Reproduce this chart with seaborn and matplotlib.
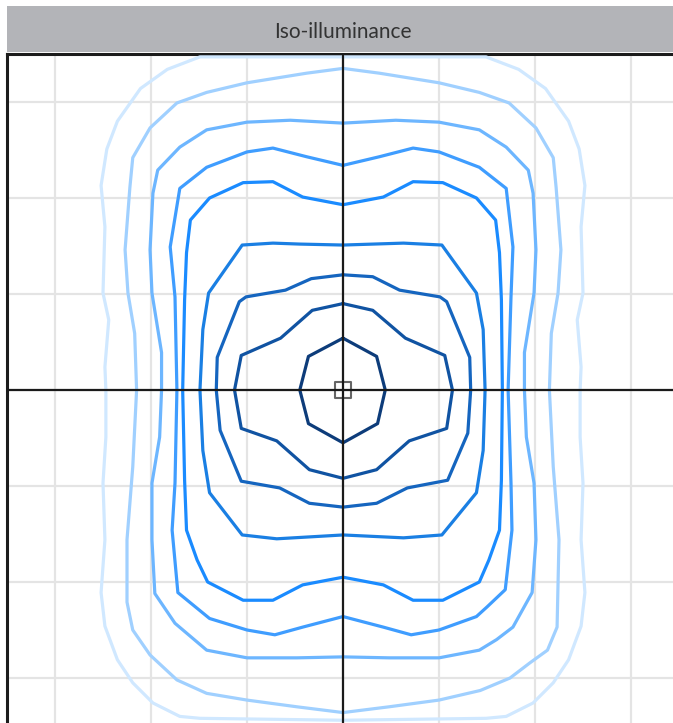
import matplotlib
matplotlib.use("Agg")
import numpy as np
import pandas as pd
import seaborn as sns
import matplotlib.pyplot as plt
from matplotlib.patches import Rectangle

# ---------------- data (metres, luminaire at origin) ----------------
title = "Iso-illuminance"
levels = ["L1", "L2", "L3", "L4", "L5", "L6", "L7", "L8", "L9"]
colors = ["#0d3c7a", "#1053a2", "#1565bf", "#1a7fe3", "#1a8bff",
          "#3f9dff", "#6db6ff", "#a0d0ff", "#d0e8ff"]

c1_x = [0, 0.35, 0.44, 0.36, 0, -0.36, -0.45, -0.36, 0]
c1_y = [0.54, 0.35, 0, -0.35, -0.55, -0.35, 0, 0.35, 0.54]

c2_x = [0, 0.31, 0.65, 1.06, 1.14, 1.08, 0.69, 0.35, 0,
        -0.35, -0.69, -1.06, -1.13, -1.06, -0.65, -0.32, 0]
c2_y = [0.90, 0.83, 0.54, 0.36, 0, -0.40, -0.53, -0.83, -0.92,
        -0.83, -0.53, -0.40, 0, 0.36, 0.54, 0.83, 0.90]

c3_x = [0, 0.31, 0.59, 1.01, 1.08, 1.32, 1.33, 1.30, 1.09, 0.67, 0.35, 0,
        -0.35, -0.66, -1.06, -1.28, -1.32, -1.31, -1.08, -1.01, -0.60, -0.33, 0]
c3_y = [1.20, 1.18, 1.04, 0.97, 0.92, 0.34, 0, -0.45, -0.94, -1.02, -1.18, -1.22,
        -1.18, -1.02, -0.95, -0.42, 0, 0.34, 0.92, 0.97, 1.04, 1.16, 1.20]

c4_x = [0, 0.63, 1.03, 1.39, 1.46, 1.48, 1.46, 1.39, 1.03, 0.63, 0,
        -0.69, -1.05, -1.39, -1.46, -1.49, -1.46, -1.40, -1.05, -0.73, -0.45, 0]
c4_y = [1.51, 1.53, 1.51, 1.01, 0.63, 0, -0.63, -1.07, -1.51, -1.54, -1.51,
        -1.55, -1.51, -1.07, -0.63, 0, 0.63, 1.01, 1.51, 1.53, 1.52, 1.51]

c5_x = [0, 0.42, 0.73, 1.04, 1.39, 1.59, 1.63, 1.65, 1.66, 1.65, 1.63, 1.52, 1.42,
        1.04, 0.73, 0.42, 0,
        -0.42, -0.73, -1.04, -1.41, -1.52, -1.63, -1.65, -1.67, -1.65, -1.63,
        -1.59, -1.39, -1.04, -0.73, -0.42, 0]
c5_y = [1.93, 2.01, 2.17, 2.16, 2.00, 1.77, 1.43, 0.94, 0, -0.94, -1.46, -1.77, -2.00,
        -2.19, -2.19, -2.03, -1.95,
        -2.03, -2.19, -2.19, -2.00, -1.77, -1.46, -0.94, 0, 0.94, 1.43,
        1.77, 2.00, 2.16, 2.17, 2.01, 1.93]

c6_x = [0, 0.38, 0.73, 1.00, 1.42, 1.70, 1.77, 1.75, 1.72, 1.75, 1.76, 1.69, 1.50,
        1.39, 1.00, 0.71, 0.42, 0,
        -0.42, -0.71, -1.00, -1.39, -1.72, -1.78, -1.75, -1.73, -1.75, -1.80,
        -1.70, -1.42, -1.00, -0.73, -0.38, 0]
c6_y = [2.34, 2.43, 2.52, 2.48, 2.32, 2.10, 1.49, 0.97, 0, -0.97, -1.46, -2.08, -2.26,
        -2.36, -2.50, -2.55, -2.47, -2.36,
        -2.47, -2.55, -2.50, -2.38, -2.11, -1.46, -0.97, 0, 0.97, 1.49,
        2.10, 2.32, 2.48, 2.52, 2.43, 2.34]

c7_x = [0, 0.55, 1.00, 1.42, 1.70, 1.93, 1.98, 2.01, 1.99, 1.89, 1.89, 1.91, 1.99,
        2.01, 1.97, 1.77, 1.60, 1.42, 1.00, 0.48, 0,
        -0.48, -1.00, -1.42, -1.75, -1.96, -1.99, -1.99, -1.91, -1.89, -1.89,
        -1.99, -2.01, -1.98, -1.93, -1.70, -1.42, -1.00, -0.55, 0]
c7_y = [2.78, 2.81, 2.79, 2.71, 2.53, 2.29, 2.05, 1.46, 1.01, 0.39, 0, -0.49, -0.97,
        -1.56, -2.11, -2.47, -2.60, -2.71, -2.79, -2.79, -2.78,
        -2.79, -2.79, -2.71, -2.43, -2.12, -1.56, -0.97, -0.49, 0, 0.39,
        1.01, 1.46, 2.05, 2.29, 2.53, 2.71, 2.79, 2.81, 2.78]

c8_x = [0, 0.38, 0.69, 1.00, 1.42, 1.73, 2.01, 2.19, 2.22, 2.27, 2.24, 2.17, 2.15,
        2.19, 2.25, 2.23, 2.13, 1.95, 1.74, 1.43, 1.00, 0.48, 0,
        -0.48, -1.00, -1.42, -1.73, -2.01, -2.19, -2.25, -2.25, -2.19, -2.15,
        -2.17, -2.24, -2.27, -2.22, -2.19, -2.01, -1.73, -1.42, -1.00, -0.69, -0.38, 0]
c8_y = [3.35, 3.30, 3.25, 3.20, 3.10, 2.99, 2.73, 2.42, 2.11, 1.46, 1.01, 0.59, 0,
        -0.80, -1.56, -2.47, -2.71, -2.84, -3.00, -3.13, -3.23, -3.30, -3.36,
        -3.30, -3.23, -3.16, -3.02, -2.76, -2.50, -2.21, -1.56, -0.80, 0,
        0.59, 1.01, 1.46, 2.11, 2.42, 2.73, 2.99, 3.10, 3.20, 3.25, 3.30, 3.35]

c9_x = [0, 1.49, 1.83, 2.11, 2.35, 2.46, 2.52, 2.48, 2.50, 2.44, 2.48, 2.47,
        2.47, 2.50, 2.48, 2.52, 2.48, 2.35, 2.19, 1.98, 1.70, 1.49, 0,
        -1.49, -1.70, -1.98, -2.19, -2.35, -2.48, -2.52, -2.48, -2.50, -2.47,
        -2.47, -2.48, -2.44, -2.50, -2.48, -2.52, -2.46, -2.35, -2.11, -1.83, -1.49, 0]
c9_y = [3.47, 3.47, 3.34, 3.14, 2.80, 2.51, 2.13, 1.70, 1.01, 0.73, 0.24, 0,
        -0.49, -0.97, -1.56, -2.11, -2.46, -2.81, -3.05, -3.26, -3.40, -3.42, -3.44,
        -3.42, -3.40, -3.26, -3.05, -2.81, -2.46, -2.11, -1.56, -0.97, -0.49,
        0, 0.24, 0.73, 1.01, 1.70, 2.13, 2.51, 2.80, 3.14, 3.34, 3.47, 3.47]

xs = [c1_x, c2_x, c3_x, c4_x, c5_x, c6_x, c7_x, c8_x, c9_x]
ys = [c1_y, c2_y, c3_y, c4_y, c5_y, c6_y, c7_y, c8_y, c9_y]

grid_ticks = [-3, -2, -1, 0, 1, 2, 3]

frames = []
for lev, x, y in zip(levels, xs, ys):
    frames.append(pd.DataFrame({"x": x, "y": y, "level": lev, "order": range(len(x))}))
df = pd.concat(frames, ignore_index=True)

# ---------------- figure ----------------
sns.set_theme(style="white")
plt.rcParams["font.family"] = ["Lato", "DejaVu Sans"]
plt.rcParams["lines.solid_joinstyle"] = "round"
plt.rcParams["lines.solid_capstyle"] = "round"

W, H = 673, 723
fig = plt.figure(figsize=(W / 100, H / 100), dpi=100)
fig.patch.set_facecolor("white")

ax = fig.add_axes([7 / W, -3 / H, 672 / W, 672 / H])
ax.set_xlim(-3.5, 3.5)
ax.set_ylim(-3.5, 3.5)

ax.set_xticks(grid_ticks)
ax.set_yticks(grid_ticks)
ax.grid(True, color="#e4e4e4", linewidth=1.6, zorder=0)
ax.tick_params(length=0, labelbottom=False, labelleft=False)
ax.set_axisbelow(True)

palette = dict(zip(levels, colors))
for lev in levels[::-1]:
    sub = df[df["level"] == lev]
    sns.lineplot(data=sub, x="x", y="y", sort=False, estimator=None,
                 color=palette[lev], linewidth=2.3, ax=ax, legend=False, zorder=3)
ax.set_xlabel("")
ax.set_ylabel("")

ax.axhline(0, color="#1a1a1a", linewidth=1.6, zorder=5)
ax.axvline(0, color="#1a1a1a", linewidth=1.6, zorder=5)
ax.scatter([0], [0], marker="s", s=120, facecolors="none",
           edgecolors="#666666", linewidths=1.5, zorder=4)

for side in ["right", "bottom"]:
    ax.spines[side].set_visible(False)
for side in ["left", "top"]:
    ax.spines[side].set_visible(True)
    ax.spines[side].set_color("#1c1c1c")
    ax.spines[side].set_linewidth(2.2)

# header bar
fig.patches.append(Rectangle((7 / W, (H - 52) / H), 1 - 7 / W, 46 / H,
                             transform=fig.transFigure, facecolor="#b3b4b8",
                             edgecolor="none", zorder=0))
fig.text(343 / W, (H - 32) / H, title, ha="center", va="center",
         fontsize=15, color="#333333")

fig.savefig("out.png", dpi=100)
